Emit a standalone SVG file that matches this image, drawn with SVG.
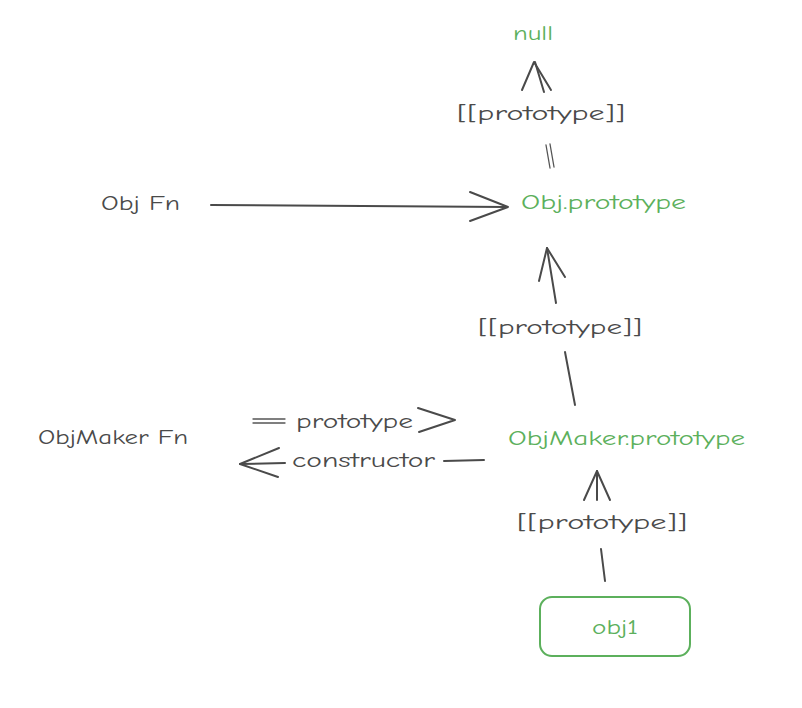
<svg xmlns="http://www.w3.org/2000/svg" width="802" height="708" viewBox="0 0 802 708">
<style>
text{font-family:"Comic Neue","Liberation Sans",sans-serif;font-size:20px;}
.g{fill:#5cb05c;}
.k{fill:#4a4a4a;}
.ln{stroke:#4a4a4a;stroke-width:2;fill:none;stroke-linecap:round;stroke-linejoin:round;}
.thin{stroke:#555555;stroke-width:1.3;fill:none;stroke-linecap:round;}
</style>
<rect width="802" height="708" fill="#ffffff"/>
<g id="connectors">
  <!-- obj.prototype -> null -->
  <path class="thin" d="M546,145 L550,168 M550,144 L554,167"/>
  <path class="ln" d="M544,92 L535,62"/>
  <path class="ln" d="M522,90 L534,62 L551,90"/>
  <!-- Obj Fn -> Obj.prototype -->
  <path class="ln" d="M211,205 L507,207"/>
  <path class="ln" d="M470,192 L508,207 L470,221"/>
  <!-- ObjMaker.prototype -> Obj.prototype -->
  <path class="ln" d="M575,405 L565,352"/>
  <path class="ln" d="M556,303 L547,248"/>
  <path class="ln" d="M539,281 L547,248 L565,277"/>
  <!-- prototype arrow -->
  <path class="thin" d="M253,419 L285,419 M253,423 L285,423"/>
  <path class="ln" d="M418,408 L455,420 L419,432"/>
  <!-- constructor arrow -->
  <path class="ln" d="M444,461 L484,460"/>
  <path class="ln" d="M240,464 L285,463"/>
  <path class="ln" d="M279,448 L240,464 L278,477"/>
  <!-- obj1 -> ObjMaker.prototype -->
  <path class="ln" d="M605,581 L601,549"/>
  <path class="ln" d="M597,500 L597,471"/>
  <path class="ln" d="M584,500 L597,471 L610,500"/>
</g>
<g id="null"><text class="g" x="533" y="40" text-anchor="middle" textLength="40" lengthAdjust="spacingAndGlyphs">null</text></g>
<g id="label-proto-1"><text class="k" x="541" y="120" text-anchor="middle" textLength="168" lengthAdjust="spacingAndGlyphs">[[prototype]]</text></g>
<g id="obj-fn"><text class="k" x="101" y="210" textLength="79" lengthAdjust="spacingAndGlyphs">Obj Fn</text></g>
<g id="obj-prototype"><text class="g" x="521" y="209" textLength="165" lengthAdjust="spacingAndGlyphs">Obj.prototype</text></g>
<g id="label-proto-2"><text class="k" x="560" y="334" text-anchor="middle" textLength="164" lengthAdjust="spacingAndGlyphs">[[prototype]]</text></g>
<g id="objmaker-fn"><text class="k" x="38" y="444" textLength="150" lengthAdjust="spacingAndGlyphs">ObjMaker Fn</text></g>
<g id="label-prototype"><text class="k" x="296" y="428" textLength="117" lengthAdjust="spacingAndGlyphs">prototype</text></g>
<g id="label-constructor"><text class="k" x="292" y="467" textLength="143" lengthAdjust="spacingAndGlyphs">constructor</text></g>
<g id="objmaker-prototype"><text class="g" x="508" y="445" textLength="237" lengthAdjust="spacingAndGlyphs">ObjMaker.prototype</text></g>
<g id="label-proto-3"><text class="k" x="602" y="529" text-anchor="middle" textLength="170" lengthAdjust="spacingAndGlyphs">[[prototype]]</text></g>
<g id="obj1">
  <rect x="540" y="597" width="150" height="59" rx="12" ry="12" fill="none" stroke="#5cb05c" stroke-width="2"/>
  <text class="g" x="615" y="634" text-anchor="middle" textLength="46" lengthAdjust="spacingAndGlyphs">obj1</text>
</g>
</svg>
